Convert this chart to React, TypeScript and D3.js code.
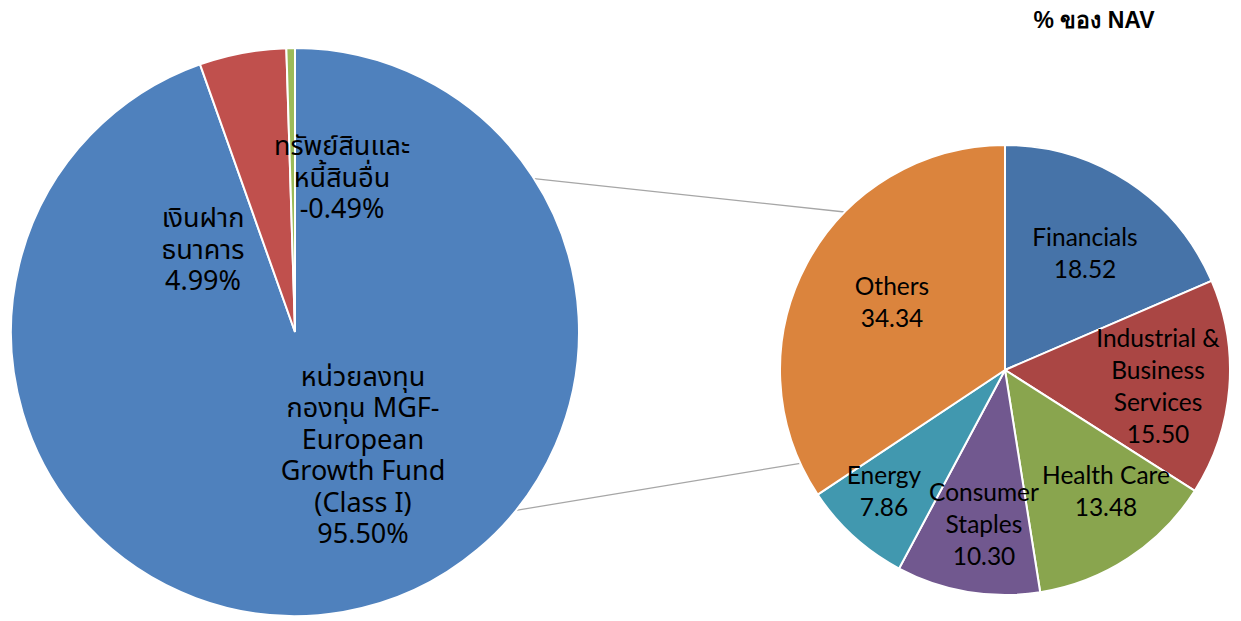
import React from "react";
import * as d3 from "d3";

const mainLabels = [
  ["หน่วยลงทุน", "กองทุน MGF-", "European", "Growth Fund", "(Class I)"],
  ["เงินฝาก", "ธนาคาร"],
  ["ทรัพย์สินและ", "หนี้สินอื่น"],
];
const mainValues = [95.5, 4.99, -0.49];
const mainColors = ["#4F81BD", "#C0504D", "#9BBB59"];

const sectorLabels = [
  ["Financials"],
  ["Industrial &", "Business", "Services"],
  ["Health Care"],
  ["Consumer", "Staples"],
  ["Energy"],
  ["Others"],
];
const sectorValues = [18.52, 15.5, 13.48, 10.3, 7.86, 34.34];
const sectorColors = ["#4673A8", "#AA4644", "#89A54E", "#71588F", "#4198AF", "#DB843D"];

const title = "% ของ NAV";

const W = 1241;
const H = 621;

export default function App() {
  const c1 = { x: 295, y: 332, r: 284 };
  const c2 = { x: 1005, y: 370, r: 225 };

  const pie = d3.pie<number>().sort(null).value((d) => Math.abs(d));
  const mainArcs = pie(mainValues);
  const secArcs = pie(sectorValues);
  const arc1 = d3.arc<d3.PieArcDatum<number>>().innerRadius(0).outerRadius(c1.r);
  const arc2 = d3.arc<d3.PieArcDatum<number>>().innerRadius(0).outerRadius(c2.r);

  const lh = 31.5;
  const thaiFont = "Tahoma, 'Noto Sans Thai', 'Noto Sans', sans-serif";
  const latFont = "Lato, 'Open Sans', sans-serif";

  const mainCenters = [
    [363, 456],
    [203, 250],
    [342, 178],
  ];
  const secCenters = [
    [1085, 252],
    [1158, 385],
    [1106, 490],
    [984, 523],
    [884, 490],
    [892, 301],
  ];

  // connector lines (angles measured from +x axis, degrees)
  const conn = [
    { a1: -32.7, a2: -135.4 },
    { a1: 38.9, a2: 155.5 },
  ];
  const pt = (c: { x: number; y: number; r: number }, a: number) => [
    c.x + c.r * Math.cos((a * Math.PI) / 180),
    c.y + c.r * Math.sin((a * Math.PI) / 180),
  ];

  const fmt = (v: number) => v.toFixed(2);

  return (
    <svg width={W} height={H} style={{ position: "absolute", left: 0, top: 0, background: "#fff" }}>
      {conn.map((c, i) => {
        const p1 = pt(c1, c.a1);
        const p2 = pt(c2, c.a2);
        return <line key={i} x1={p1[0]} y1={p1[1]} x2={p2[0]} y2={p2[1]} stroke="#A6A6A6" strokeWidth={1.3} />;
      })}
      <g transform={`translate(${c1.x},${c1.y})`}>
        {mainArcs.map((a, i) => (
          <path key={i} d={arc1(a) || ""} fill={mainColors[i]} stroke="#fff" strokeWidth={2} />
        ))}
      </g>
      <g transform={`translate(${c2.x},${c2.y})`}>
        {secArcs.map((a, i) => (
          <path key={i} d={arc2(a) || ""} fill={sectorColors[i]} stroke="#fff" strokeWidth={2} />
        ))}
      </g>
      {mainLabels.map((lines, i) => {
        const all = [...lines, fmt(mainValues[i]) + "%"];
        const [cx, cy] = mainCenters[i];
        const y0 = cy - ((all.length - 1) * lh) / 2;
        return (
          <text key={i} textAnchor="middle" fontFamily={thaiFont} fontSize={27} fill="#000">
            {all.map((t, j) => (
              <tspan key={j} x={cx} y={y0 + j * lh} dominantBaseline="central">
                {t}
              </tspan>
            ))}
          </text>
        );
      })}
      {sectorLabels.map((lines, i) => {
        const all = [...lines, fmt(sectorValues[i])];
        const [cx, cy] = secCenters[i];
        const y0 = cy - ((all.length - 1) * 32) / 2;
        return (
          <text key={i} textAnchor="middle" fontFamily={latFont} fontSize={24.5} fill="#000">
            {all.map((t, j) => (
              <tspan key={j} x={cx} y={y0 + j * 32} dominantBaseline="central">
                {t}
              </tspan>
            ))}
          </text>
        );
      })}
      <text x={1094} y={28} textAnchor="middle" fontFamily="'Liberation Sans', Arial, sans-serif" fontWeight="bold" fontSize={23} fill="#000">
        {title}
      </text>
    </svg>
  );
}
